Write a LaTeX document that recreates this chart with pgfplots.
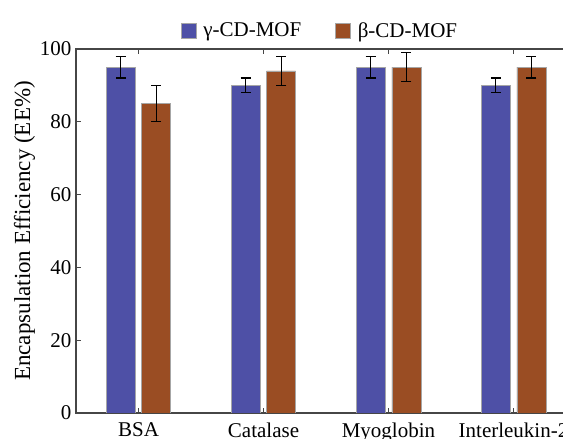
\documentclass[border=0pt]{standalone}
\usepackage{pgfplots}
\pgfplotsset{compat=1.18}
\usepackage{fontspec}
\setmainfont{Liberation Serif}
\definecolor{cblue}{RGB}{78,80,166}
\definecolor{cbrown}{RGB}{154,77,35}
\definecolor{axgray}{RGB}{70,70,70}
\begin{document}
\begin{tikzpicture}
\begin{axis}[
  scale only axis,
  width=500pt, height=364pt,
  xmin=0.5, xmax=4.5, ymin=0, ymax=100,
  ybar, bar width=29pt,
  xtick={1,2,3,4},
  xticklabels={BSA,Catalase,Myoglobin,Interleukin-2},
  ytick={0,20,40,60,80,100},
  tick align=inside,
  xtick pos=both, ytick pos=left,
  major tick length=5pt,
  tick style={axgray, line width=1pt},
  axis line style={axgray, line width=1.5pt},
  /pgf/number format/assume math mode=true,
  ticklabel style={font=\fontsize{21}{24}\selectfont},
  yticklabel style={xshift=-1pt},
  xticklabel style={yshift=-6pt},
  ylabel={Encapsulation Efficiency (EE\%)},
  ylabel style={font=\fontsize{23}{26}\selectfont, yshift=-2pt},
  legend style={at={(0.488,1.0)}, anchor=south, yshift=6pt, draw=none, fill=none,
    font=\fontsize{21}{24}\selectfont, column sep=5pt,
    /tikz/every even column/.append style={column sep=32pt}},
  legend columns=2,
  legend image code/.code={\fill[#1] (0pt,-7.5pt) rectangle (15pt,7.5pt);},
  error bars/y dir=both, error bars/y explicit,
  error bars/error bar style={black, line width=1.4pt},
  error bars/error mark options={rotate=90, mark size=5pt, line width=1.4pt, black},
]
\addplot[fill=cblue, draw=black!35, line width=0.5pt, bar shift=-17.75pt]
  coordinates {(1,95) +- (0,3) (2,90) +- (0,2) (3,95) +- (0,3) (4,90) +- (0,2)};
\addplot[fill=cbrown, draw=black!35, line width=0.5pt, bar shift=17.75pt]
  coordinates {(1,85) +- (0,5) (2,94) +- (0,4) (3,95) +- (0,4) (4,95) +- (0,3)};
\legend{γ-CD-MOF, β-CD-MOF}
\coordinate (O) at (rel axis cs:0,0);
\end{axis}
\pgfresetboundingbox
\useasboundingbox ([shift={(-76pt,-26pt)}]O) rectangle ([shift={(487pt,413pt)}]O);
\end{tikzpicture}
\end{document}
